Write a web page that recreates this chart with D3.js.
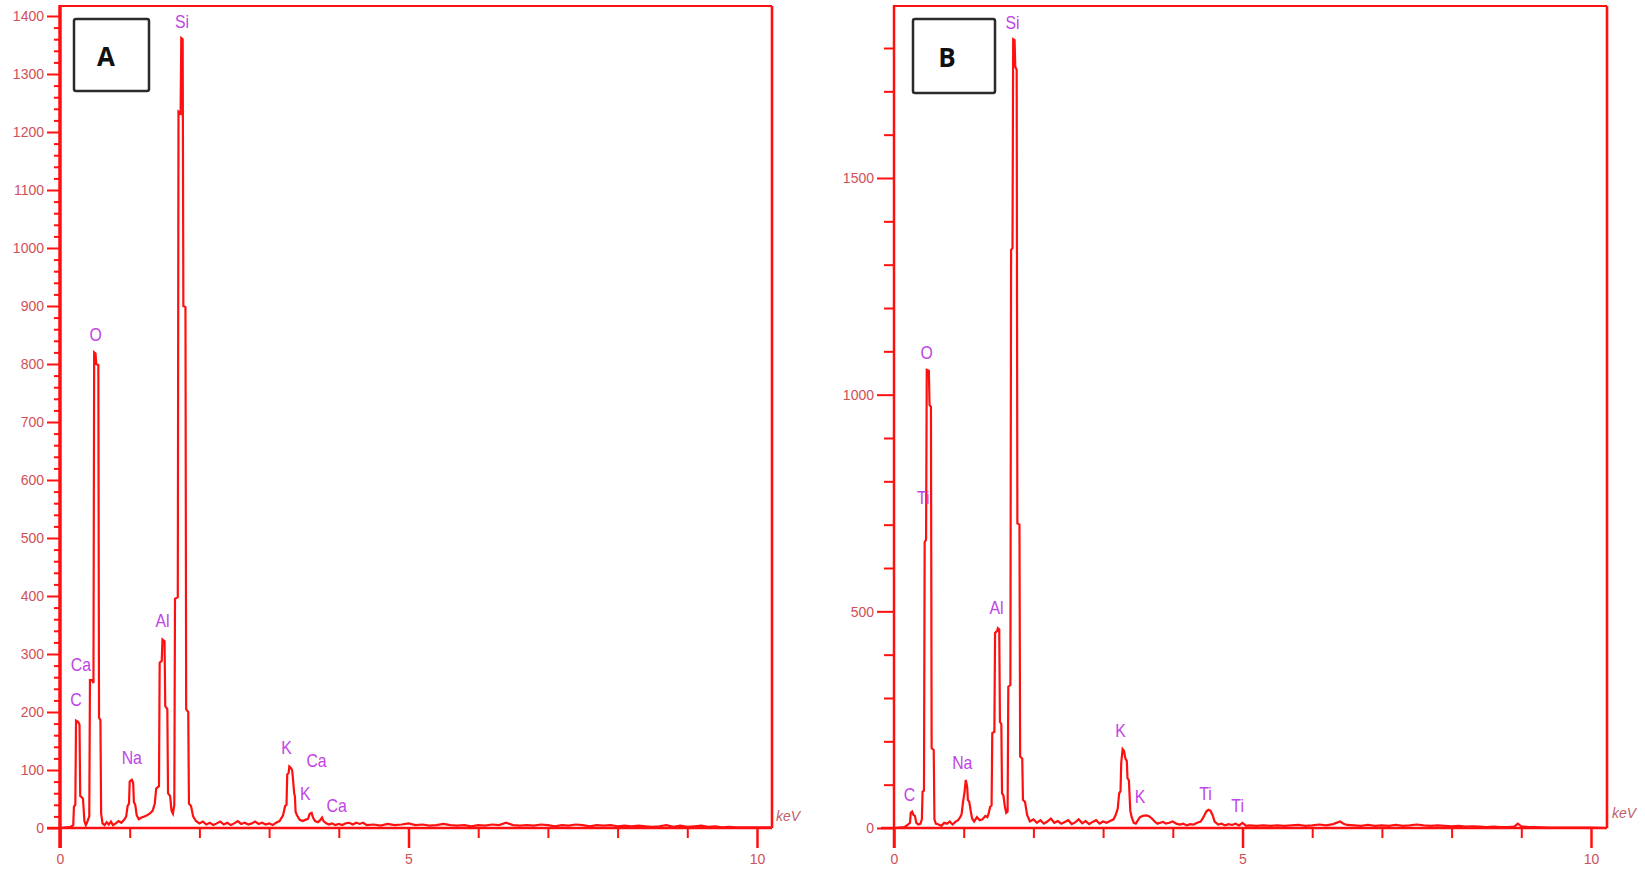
<!DOCTYPE html>
<html>
<head>
<meta charset="utf-8">
<script src="https://cdn.jsdelivr.net/npm/d3@7"></script>
<style>
html,body{margin:0;padding:0;background:#fff;}
svg{display:block;}
</style>
</head>
<body>
<svg id="chart" width="1645" height="873"></svg>
<script>
// ---------- DATA ----------
const energyA = [0.00,0.15,0.19,0.20,0.22,0.23,0.26,0.28,0.29,0.32,0.33,0.35,0.37,0.39,0.42,0.43,0.46,0.48,0.49,0.51,0.52,0.55,0.56,0.58,0.59,0.61,0.64,0.67,0.70,0.73,0.76,0.80,0.84,0.88,0.92,0.95,0.97,0.99,1.00,1.03,1.05,1.06,1.08,1.10,1.13,1.17,1.21,1.25,1.29,1.33,1.36,1.38,1.40,1.42,1.43,1.46,1.47,1.50,1.51,1.54,1.55,1.58,1.60,1.62,1.64,1.65,1.69,1.70,1.73,1.74,1.76,1.77,1.80,1.81,1.84,1.85,1.88,1.91,1.95,2.00,2.05,2.10,2.15,2.20,2.25,2.30,2.35,2.40,2.45,2.50,2.55,2.60,2.65,2.70,2.75,2.80,2.85,2.90,2.95,3.00,3.05,3.10,3.15,3.20,3.23,3.25,3.26,3.28,3.29,3.31,3.33,3.34,3.36,3.37,3.38,3.40,3.44,3.48,3.52,3.56,3.58,3.61,3.63,3.66,3.70,3.73,3.76,3.78,3.82,3.86,3.90,3.95,4.00,4.05,4.10,4.15,4.20,4.25,4.30,4.35,4.40,4.50,4.60,4.70,4.80,4.90,5.00,5.10,5.20,5.30,5.40,5.50,5.60,5.70,5.80,5.90,6.00,6.10,6.20,6.30,6.40,6.50,6.60,6.70,6.80,6.90,7.00,7.10,7.20,7.30,7.40,7.50,7.60,7.70,7.80,7.90,8.00,8.10,8.20,8.30,8.40,8.50,8.60,8.70,8.80,8.90,9.00,9.10,9.20,9.30,9.40,9.50,9.60,9.70,9.80,9.90,10.00,10.21];
const countsA = [0,2,5,37,40,185,183,178,55,52,50,12,5,10,20,255,255,250,820,818,800,798,190,186,25,8,5,10,6,11,5,8,12,9,14,20,38,42,80,83,78,45,40,22,15,18,20,22,25,30,42,68,70,72,285,288,325,322,210,205,60,55,30,25,40,395,398,1235,1232,1362,1360,900,898,205,200,42,38,20,12,8,11,6,9,5,8,11,6,9,5,8,12,7,9,6,8,11,7,9,6,8,5,9,12,22,38,40,92,95,106,104,100,88,60,55,28,22,14,12,14,16,24,26,18,12,10,13,18,12,8,6,8,5,7,5,8,9,6,9,7,9,5,6,4,7,5,6,8,5,6,4,5,7,5,4,5,3,5,4,6,5,9,5,4,5,4,6,5,3,5,4,6,5,3,5,4,5,3,4,3,4,3,2,3,5,2,4,2,3,4,2,3,1,2,1,1,1,1,1];

const energyB = [0.00,0.15,0.20,0.23,0.24,0.26,0.28,0.30,0.32,0.35,0.38,0.40,0.41,0.43,0.44,0.46,0.47,0.50,0.51,0.53,0.54,0.57,0.58,0.60,0.64,0.68,0.72,0.76,0.80,0.84,0.88,0.92,0.95,0.97,0.99,1.01,1.03,1.05,1.06,1.08,1.10,1.12,1.15,1.19,1.23,1.27,1.31,1.34,1.36,1.38,1.40,1.41,1.44,1.45,1.48,1.49,1.51,1.52,1.54,1.55,1.57,1.59,1.61,1.63,1.64,1.67,1.68,1.70,1.71,1.73,1.74,1.76,1.77,1.80,1.81,1.84,1.85,1.88,1.91,1.95,2.00,2.05,2.10,2.15,2.20,2.25,2.30,2.35,2.40,2.45,2.50,2.55,2.60,2.65,2.70,2.75,2.80,2.85,2.90,2.95,3.00,3.05,3.10,3.15,3.18,3.21,3.23,3.25,3.26,3.28,3.30,3.32,3.34,3.35,3.37,3.39,3.41,3.44,3.47,3.50,3.53,3.57,3.62,3.66,3.70,3.74,3.78,3.82,3.86,3.90,3.95,4.00,4.05,4.10,4.15,4.20,4.25,4.30,4.35,4.40,4.44,4.48,4.51,4.54,4.57,4.60,4.65,4.70,4.75,4.80,4.85,4.90,4.95,5.00,5.05,5.10,5.20,5.30,5.40,5.50,5.60,5.70,5.80,5.90,6.00,6.10,6.20,6.30,6.40,6.45,6.50,6.60,6.70,6.80,6.90,7.00,7.10,7.20,7.30,7.40,7.50,7.60,7.70,7.80,7.90,8.00,8.10,8.20,8.30,8.40,8.50,8.60,8.70,8.80,8.90,8.95,9.00,9.10,9.20,9.40,9.60,9.80,10.00,10.23];
const countsB = [0,2,8,12,35,38,30,28,12,8,10,20,84,86,660,665,1057,1055,976,972,184,180,20,10,8,5,12,10,15,8,14,18,25,32,60,80,111,95,65,60,40,22,15,25,18,20,28,25,35,49,52,219,222,450,455,461,458,245,240,80,75,50,35,38,326,330,1334,1338,1820,1818,1757,1750,703,700,165,160,65,60,30,15,20,12,18,10,15,22,12,16,10,14,18,9,13,20,11,16,9,14,18,10,15,12,16,20,30,45,80,85,150,182,178,160,155,115,110,40,25,12,10,18,25,28,29,27,22,15,10,12,14,10,12,15,10,8,10,6,9,8,12,15,25,38,42,40,30,15,8,10,6,9,7,10,6,12,5,6,5,6,5,6,5,6,7,5,6,8,6,9,15,10,7,6,5,7,5,6,5,7,5,6,8,6,5,6,5,4,5,3,4,3,2,3,2,2,3,10,4,2,2,1,1,1,1,0];

const yTicksA = [0,100,200,300,400,500,600,700,800,900,1000,1100,1200,1300,1400];
const yTicksB = [0,500,1000,1500];
const xTickLabels = [0,5,10];

const peakNamesA = ["Si","O","Ca","C","Na","Al","K","Ca","K","Ca"];
const peakKeVA   = [1.75,0.51,0.30,0.23,1.03,1.47,3.25,3.68,3.52,3.97];
const peakCntA   = [1380,839,271,211,110,347,128,105,48,28];

const peakNamesB = ["Si","O","Ti","C","Na","Al","K","K","Ti","Ti"];
const peakKeVB   = [1.70,0.47,0.42,0.22,0.98,1.47,3.25,3.53,4.47,4.93];
const peakCntB   = [1844,1082,748,62,136,494,210,58,65,37];

// ---------- DRAW ----------
const svg = d3.select("#chart");
const RED = "#ff1010";
const TICKTXT = "#d0505a";
const LABEL = "#c044e6";

const panels = [
  {id:"A", energy:energyA, counts:countsA, names:peakNamesA, pk:peakKeVA, pc:peakCntA,
   xr:[60,757], right:772, yd:[0,1400], yr:[828,16], majorY:yTicksA, minorStep:20, yMaxMinor:1410,
   axisW:3.5, box:[74,19,75,72], letter:[106,66], keV:[776,821]},
  {id:"B", energy:energyB, counts:countsB, names:peakNamesB, pk:peakKeVB, pc:peakCntB,
   xr:[894,1591], right:1607, yd:[0,1500], yr:[828,178], majorY:yTicksB, minorStep:100, yMaxMinor:1890,
   axisW:2.5, box:[913,19,82,74], letter:[947,67], keV:[1612,818]}
];

const TOP = 6, BOTTOM = 828;

panels.forEach(p => {
  const x = d3.scaleLinear().domain([0,10]).range(p.xr);
  const y = d3.scaleLinear().domain(p.yd).range(p.yr);
  const g = svg.append("g");
  const x0 = p.xr[0];

  // clip
  const clipId = "clip"+p.id;
  svg.append("clipPath").attr("id", clipId)
    .append("rect").attr("x", x0).attr("y", TOP).attr("width", p.right - x0).attr("height", BOTTOM - TOP + 2);

  // frame (top & right)
  g.append("line").attr("x1", x0).attr("x2", p.right).attr("y1", TOP).attr("y2", TOP)
    .attr("stroke", RED).attr("stroke-width", 2.2);
  g.append("line").attr("x1", p.right).attr("x2", p.right).attr("y1", TOP).attr("y2", BOTTOM)
    .attr("stroke", RED).attr("stroke-width", 2.6);

  // minor y ticks
  const minorVals = d3.range(0, p.yMaxMinor, p.minorStep).filter(v => !p.majorY.includes(v));
  const minorAxis = d3.axisLeft(y).tickValues(minorVals).tickSize(p.id==="A"?6:10).tickFormat("");
  const gm = g.append("g").attr("transform", `translate(${x0},0)`).call(minorAxis);
  gm.select(".domain").remove();
  gm.selectAll("line").attr("stroke", RED).attr("stroke-width", 2);

  // major y ticks
  const majorAxis = d3.axisLeft(y).tickValues(p.majorY).tickSize(p.id==="A"?13:17).tickPadding(3)
    .tickFormat(d3.format("d"));
  const gM = g.append("g").attr("transform", `translate(${x0},0)`).call(majorAxis);
  gM.select(".domain").remove();
  gM.selectAll("line").attr("stroke", RED).attr("stroke-width", 2);
  gM.selectAll("text").attr("fill", TICKTXT).attr("font-family", "Liberation Sans, Arial, sans-serif")
    .attr("font-size", 14).attr("dy", "0.35em")
    .attr("transform", function(){ const t=d3.select(this); return null; });

  // x minor / major ticks
  const xMinorAxis = d3.axisBottom(x).tickValues([1,2,3,4,6,7,8,9]).tickSize(10).tickFormat("");
  const gxm = g.append("g").attr("transform", `translate(0,${BOTTOM})`).call(xMinorAxis);
  gxm.select(".domain").remove();
  gxm.selectAll("line").attr("stroke", RED).attr("stroke-width", 2);

  const xMajorAxis = d3.axisBottom(x).tickValues(xTickLabels).tickSize(20).tickPadding(6).tickFormat(d3.format("d"));
  const gxM = g.append("g").attr("transform", `translate(0,${BOTTOM})`).call(xMajorAxis);
  gxM.select(".domain").remove();
  gxM.selectAll("line").attr("stroke", RED).attr("stroke-width", 2.5);
  gxM.selectAll("text").attr("fill", TICKTXT).attr("font-family", "Liberation Sans, Arial, sans-serif")
    .attr("font-size", 14);

  // spectrum
  const pts = p.energy.map((e,i) => [e, p.counts[i]]);
  const line = d3.line().x(d => x(d[0])).y(d => y(d[1])).curve(d3.curveLinear);
  g.append("path").datum(pts).attr("d", line).attr("fill", "none")
    .attr("stroke", RED).attr("stroke-width", 2.2).attr("stroke-linejoin", "miter")
    .attr("clip-path", `url(#${clipId})`);

  // axes lines
  g.append("line").attr("x1", x0 - 13).attr("x2", p.right).attr("y1", BOTTOM).attr("y2", BOTTOM)
    .attr("stroke", RED).attr("stroke-width", 2.6);
  g.append("line").attr("x1", x0).attr("x2", x0).attr("y1", TOP - 1).attr("y2", BOTTOM + 20)
    .attr("stroke", RED).attr("stroke-width", p.axisW);

  // keV
  g.append("text").attr("x", p.keV[0]).attr("y", p.keV[1]).text("keV")
    .attr("fill", "#c06068").attr("font-family", "Liberation Sans, Arial, sans-serif")
    .attr("font-size", 14).attr("font-style", "italic");

  // peak labels
  p.names.forEach((n,i) => {
    g.append("text")
      .attr("transform", `translate(${x(p.pk[i])},${y(p.pc[i])}) scale(0.88,1)`)
      .attr("text-anchor", "middle").text(n)
      .attr("fill", LABEL).attr("font-family", "Liberation Sans, Arial, sans-serif")
      .attr("font-size", 18);
  });

  // panel letter box
  g.append("rect").attr("x", p.box[0]).attr("y", p.box[1]).attr("width", p.box[2]).attr("height", p.box[3])
    .attr("rx", 2).attr("fill", "#fff").attr("stroke", "#2a2a2a").attr("stroke-width", 2.5);
  g.append("text").attr("x", p.letter[0]).attr("y", p.letter[1]).attr("text-anchor", "middle")
    .text(p.id).attr("font-family", "Open Sans, Liberation Sans, Arial, sans-serif")
    .attr("font-weight", "bold").attr("font-size", 26).attr("fill", "#111");
});
</script>
</body>
</html>
